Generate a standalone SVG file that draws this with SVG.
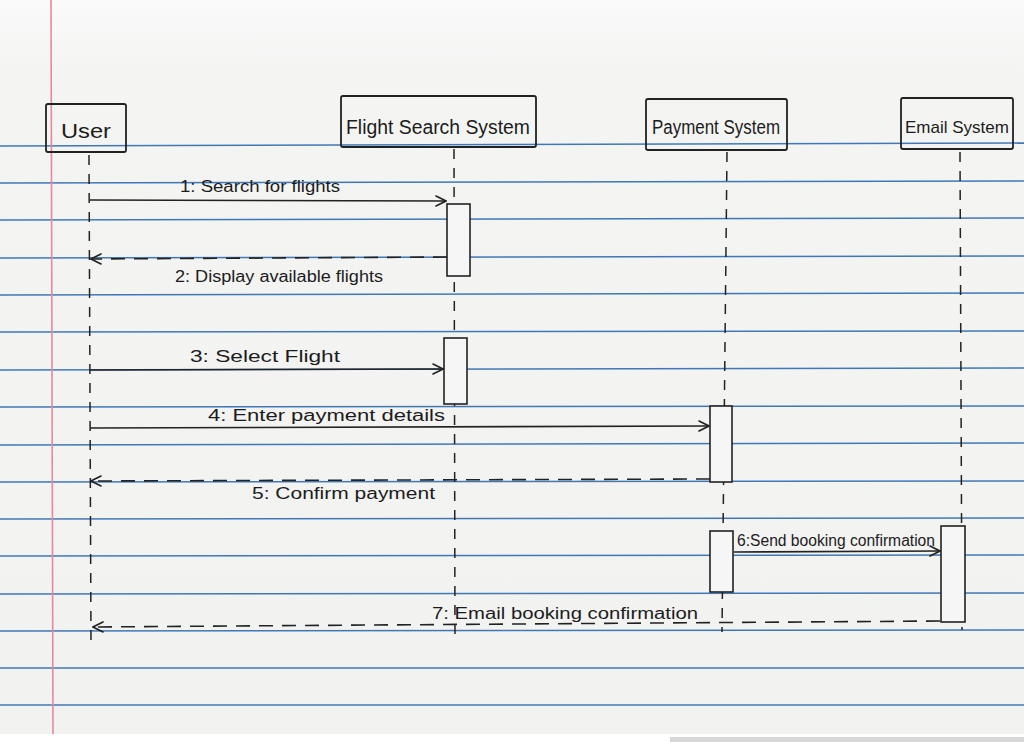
<svg xmlns="http://www.w3.org/2000/svg" width="1024" height="742" viewBox="0 0 1024 742">
  <defs>
    <marker id="open-arrow" viewBox="0 0 12 12" refX="11" refY="6" markerWidth="12" markerHeight="12" markerUnits="userSpaceOnUse" orient="auto">
      <path d="M1,1 L11,6 L1,11" fill="none" stroke="#222" stroke-width="1.6" stroke-linecap="round"/>
    </marker>
    <linearGradient id="paper" x1="0" y1="0" x2="0" y2="1">
      <stop offset="0" stop-color="#fafafa"/>
      <stop offset="0.1" stop-color="#f4f4f3"/>
      <stop offset="1" stop-color="#f2f2f1"/>
    </linearGradient>
    <style>
      .rule { stroke: #3f78b5; stroke-width: 1.6; }
      .margin { stroke: #e58a9c; stroke-width: 1.6; }
      .box { fill: none; stroke: #222; stroke-width: 1.8; }
      .act { fill: #f6f6f6; stroke: #222; stroke-width: 1.6; }
      .life { stroke: #222; stroke-width: 1.5; stroke-dasharray: 10 9; fill: none; }
      .msg { stroke: #222; stroke-width: 1.6; fill: none; marker-end: url(#open-arrow); }
      .ret { stroke: #222; stroke-width: 1.6; fill: none; stroke-dasharray: 14 9; marker-end: url(#open-arrow); }
      .name { font-family: "Liberation Sans", "DejaVu Sans", sans-serif; font-size: 20px; fill: #1c1c1c; }
      .small { font-size: 17px; }
      .lbl { font-family: "Liberation Sans", "DejaVu Sans", sans-serif; font-size: 16px; fill: #1c1c1c; }
    </style>
  </defs>

  <!-- paper -->
  <rect x="0" y="0" width="1024" height="742" fill="url(#paper)"/>
  <rect x="0" y="734" width="1024" height="8" fill="#ffffff"/>
  <rect x="670" y="737" width="354" height="5" fill="#d8d8d8"/>

  <!-- ruled lines and margin -->
  <g id="ruling">
    <line class="rule" x1="0" y1="146" x2="1024" y2="143"/>
    <line class="rule" x1="0" y1="183" x2="1024" y2="181"/>
    <line class="rule" x1="0" y1="220" x2="1024" y2="218"/>
    <line class="rule" x1="0" y1="258" x2="1024" y2="256"/>
    <line class="rule" x1="0" y1="295" x2="1024" y2="293"/>
    <line class="rule" x1="0" y1="332" x2="1024" y2="331"/>
    <line class="rule" x1="0" y1="370" x2="1024" y2="368"/>
    <line class="rule" x1="0" y1="407" x2="1024" y2="406"/>
    <line class="rule" x1="0" y1="445" x2="1024" y2="443"/>
    <line class="rule" x1="0" y1="482" x2="1024" y2="481"/>
    <line class="rule" x1="0" y1="519" x2="1024" y2="518"/>
    <line class="rule" x1="0" y1="556" x2="1024" y2="555"/>
    <line class="rule" x1="0" y1="594" x2="1024" y2="593"/>
    <line class="rule" x1="0" y1="631" x2="1024" y2="630"/>
    <line class="rule" x1="0" y1="668" x2="1024" y2="668"/>
    <line class="rule" x1="0" y1="705" x2="1024" y2="705"/>
    <line class="margin" x1="51" y1="0" x2="53" y2="734"/>
  </g>

  <!-- participants -->
  <g id="user">
    <rect class="box" x="46" y="104" width="80" height="48" rx="2"/>
    <text class="name" x="86" y="138" text-anchor="middle" textLength="50" lengthAdjust="spacingAndGlyphs">User</text>
    <line class="life" x1="89" y1="155" x2="91" y2="642"/>
  </g>

  <g id="flight-search-system">
    <rect class="box" x="341" y="96" width="195" height="51" rx="2"/>
    <text class="name" x="438" y="134" text-anchor="middle" textLength="184" lengthAdjust="spacingAndGlyphs">Flight Search System</text>
    <line class="life" x1="454" y1="149" x2="455" y2="642"/>
    <rect class="act" x="447" y="204" width="23" height="72"/>
    <rect class="act" x="444" y="338" width="23" height="66"/>
  </g>

  <g id="payment-system">
    <rect class="box" x="646" y="99" width="141" height="51" rx="2"/>
    <text class="name" x="716" y="134" text-anchor="middle" textLength="128" lengthAdjust="spacingAndGlyphs">Payment System</text>
    <line class="life" x1="727" y1="152" x2="722" y2="632"/>
    <rect class="act" x="710" y="406" width="22" height="76"/>
    <rect class="act" x="710" y="531" width="23" height="61"/>
  </g>

  <g id="email-system">
    <rect class="box" x="901" y="98" width="112" height="51" rx="2"/>
    <text class="name small" x="957" y="133" text-anchor="middle">Email System</text>
    <line class="life" x1="960" y1="152" x2="962" y2="630"/>
    <rect class="act" x="941" y="526" width="24" height="96"/>
  </g>

  <!-- messages -->
  <g id="connectors">
    <line class="msg" x1="90" y1="200" x2="446" y2="201"/>
    <line class="ret" x1="447" y1="257" x2="91" y2="259"/>
    <line class="msg" x1="90" y1="370" x2="443" y2="369"/>
    <line class="msg" x1="90" y1="428" x2="709" y2="426"/>
    <line class="ret" x1="710" y1="479" x2="91" y2="481"/>
    <line class="msg" x1="734" y1="552" x2="940" y2="551"/>
    <line class="ret" x1="940" y1="621" x2="93" y2="627"/>
  </g>

  <g id="labels">
    <text class="lbl" x="180" y="192" textLength="160" lengthAdjust="spacingAndGlyphs">1: Search for flights</text>
    <text class="lbl" x="175" y="282" textLength="208" lengthAdjust="spacingAndGlyphs">2: Display available flights</text>
    <text class="lbl" x="190" y="362" textLength="150" lengthAdjust="spacingAndGlyphs">3: Select Flight</text>
    <text class="lbl" x="208" y="421" textLength="237" lengthAdjust="spacingAndGlyphs">4: Enter payment details</text>
    <text class="lbl" x="252" y="499" textLength="183" lengthAdjust="spacingAndGlyphs">5: Confirm payment</text>
    <text class="lbl" x="737" y="546" textLength="198" lengthAdjust="spacingAndGlyphs">6:Send booking confirmation</text>
    <text class="lbl" x="432" y="619" textLength="266" lengthAdjust="spacingAndGlyphs">7: Email booking confirmation</text>
  </g>
</svg>
